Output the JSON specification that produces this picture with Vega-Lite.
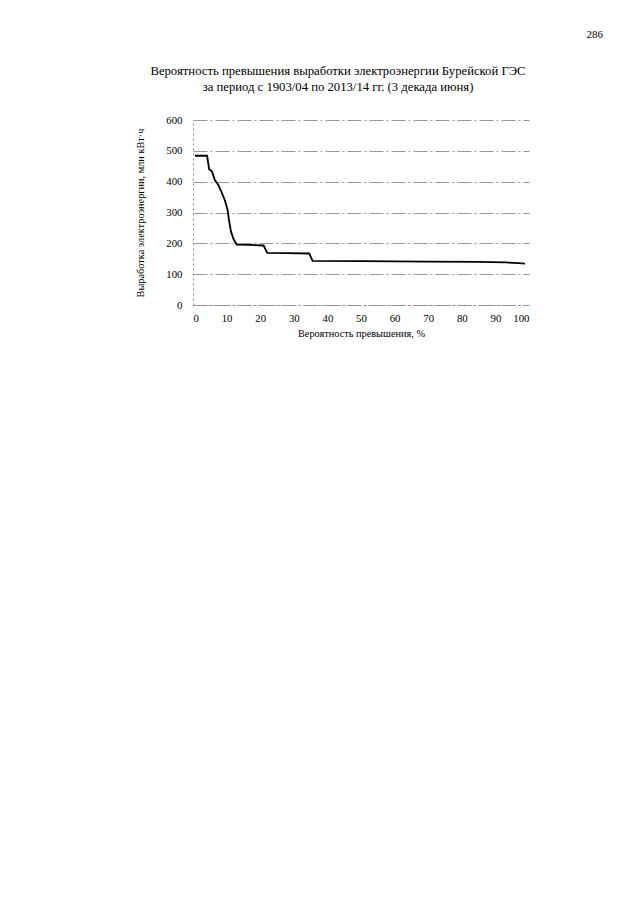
{
  "$schema": "https://vega.github.io/schema/vega-lite/v6.json",
  "autosize": "none",
  "width": 336,
  "height": 185,
  "padding": {"left": 193, "top": 120, "right": 111, "bottom": 600},
  "background": "white",
  "config": {
    "font": "Liberation Serif",
    "view": {"stroke": null},
    "axis": {
      "labelFont": "Liberation Serif",
      "titleFont": "Liberation Serif",
      "labelColor": "#000",
      "titleColor": "#000",
      "titleFontWeight": "normal",
      "labelFontSize": 10.8,
      "titleFontSize": 10.3,
      "ticks": false,
      "domainColor": "#888",
      "domainDash": [2, 3],
      "domainWidth": 1
    }
  },
  "title": {
    "text": [
      "Вероятность превышения выработки электроэнергии Бурейской ГЭС",
      "за период с 1903/04 по 2013/14 гг. (3 декада июня)"
    ],
    "font": "Liberation Serif",
    "fontSize": 12.7,
    "fontWeight": "normal",
    "color": "#000",
    "lineHeight": 16,
    "anchor": "middle",
    "dx": -23,
    "offset": -65
  },
  "layer": [
    {
      "data": {
        "values": [
          {"p": 0.6, "e": 484},
          {"p": 4.2, "e": 484},
          {"p": 4.8, "e": 440},
          {"p": 5.6, "e": 434},
          {"p": 6.5, "e": 405},
          {"p": 7.5, "e": 390},
          {"p": 8.5, "e": 366},
          {"p": 9.5, "e": 339},
          {"p": 10.3, "e": 308},
          {"p": 10.7, "e": 276},
          {"p": 11.3, "e": 238},
          {"p": 12.1, "e": 213},
          {"p": 13.0, "e": 196},
          {"p": 17.0, "e": 195},
          {"p": 21.0, "e": 193},
          {"p": 22.1, "e": 169},
          {"p": 28.0, "e": 168},
          {"p": 34.6, "e": 167},
          {"p": 35.6, "e": 143},
          {"p": 50.0, "e": 142},
          {"p": 70.0, "e": 141},
          {"p": 85.0, "e": 140},
          {"p": 93.0, "e": 138},
          {"p": 97.0, "e": 136},
          {"p": 98.8, "e": 134}
        ]
      },
      "mark": {"type": "line", "color": "#000", "strokeWidth": 1.8, "interpolate": "linear"},
      "encoding": {
        "x": {
          "field": "p",
          "type": "quantitative",
          "scale": {"domain": [0, 100], "nice": false},
          "axis": {
            "values": [0, 10, 20, 30, 40, 50, 60, 70, 80, 90, 100],
            "title": "Вероятность превышения, %",
            "labelPadding": 7,
            "titlePadding": 6,
            "grid": false
          }
        },
        "y": {
          "field": "e",
          "type": "quantitative",
          "scale": {"domain": [0, 600], "nice": false},
          "axis": {
            "values": [0, 100, 200, 300, 400, 500, 600],
            "title": "Выработка электроэнергии, млн кВт·ч",
            "labelPadding": 11,
            "titlePadding": 20,
            "grid": true,
            "gridColor": "#999",
            "gridDash": [14, 3, 2, 3],
            "gridWidth": 1
          }
        }
      }
    },
    {
      "data": {"values": [{"page": "286"}]},
      "mark": {"type": "text", "font": "Liberation Serif", "fontSize": 11, "color": "#000", "align": "center", "baseline": "middle"},
      "encoding": {
        "x": {
          "datum": 119.6,
          "type": "quantitative",
          "axis": {
            "values": [0, 10, 20, 30, 40, 50, 60, 70, 80, 90, 100],
            "title": "Вероятность превышения, %",
            "labelPadding": 7,
            "titlePadding": 6,
            "grid": false
          }
        },
        "y": {
          "datum": 876,
          "type": "quantitative",
          "axis": {
            "values": [0, 100, 200, 300, 400, 500, 600],
            "title": "Выработка электроэнергии, млн кВт·ч",
            "labelPadding": 11,
            "titlePadding": 20,
            "grid": true,
            "gridColor": "#999",
            "gridDash": [14, 3, 2, 3],
            "gridWidth": 1
          }
        },
        "text": {"field": "page"}
      }
    }
  ]
}
